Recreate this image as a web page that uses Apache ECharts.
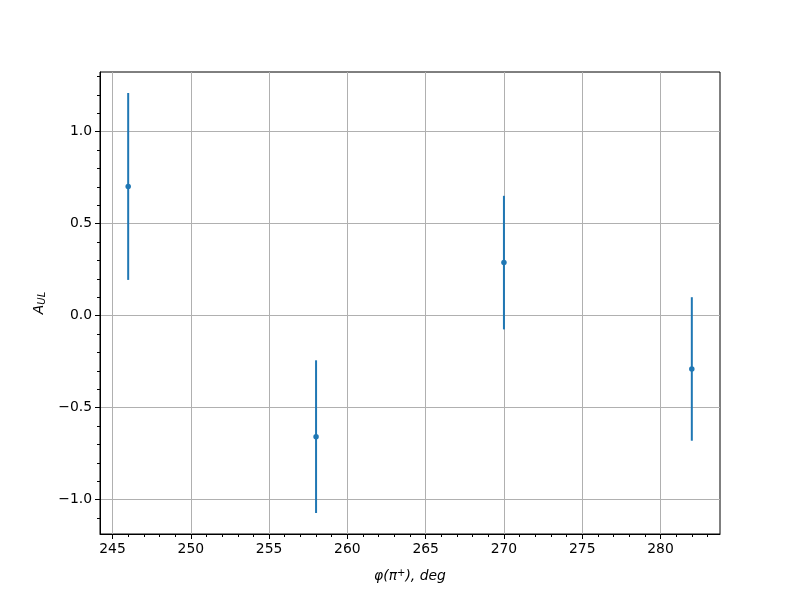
<!DOCTYPE html>
<html>
<head>
<meta charset="utf-8">
<script src="https://cdn.jsdelivr.net/npm/echarts@6/dist/echarts.min.js"></script>
<style>html,body{margin:0;padding:0;background:#fff;}#c{width:800px;height:600px;}</style>
</head>
<body>
<div id="c"></div>
<script>
// Data
var phiValues = [246, 258, 270, 282];
var aulValues = [0.702, -0.658, 0.288, -0.290];
var aulErrors = [0.508, 0.415, 0.363, 0.390];

// Axis ticks
var xMajorTicks = [245, 250, 255, 260, 265, 270, 275, 280];
var xMinorTicks = [245,246,247,248,249,250,251,252,253,254,255,256,257,258,259,260,261,262,263,264,265,266,267,268,269,270,271,272,273,274,275,276,277,278,279,280,281,282,283];
var yMajorTicks = [-1.0, -0.5, 0.0, 0.5, 1.0];
var yMinorTicks = [-1.1,-1.0,-0.9,-0.8,-0.7,-0.6,-0.5,-0.4,-0.3,-0.2,-0.1,0.0,0.1,0.2,0.3,0.4,0.5,0.6,0.7,0.8,0.9,1.0,1.1,1.2,1.3];
var xRange = [244.2, 283.8];
var yRange = [-1.187, 1.324];

var color = '#1f77b4';
var font = 'DejaVu Sans';

var errData = phiValues.map(function (x, i) { return [x, aulValues[i], aulErrors[i]]; });
var ptData = phiValues.map(function (x, i) { return [x, aulValues[i]]; });

function fmtY(v) { return Number(v).toFixed(1).replace('-', '\u2212'); }

var chart = echarts.init(document.getElementById('c'), null, {renderer: 'canvas'});
chart.setOption({
  animation: false,
  backgroundColor: '#ffffff',
  grid: {left: 100, right: 80, top: 72, bottom: 66, show: true, borderColor: '#000', borderWidth: 1, backgroundColor: 'transparent'},
  xAxis: [{
    type: 'value', min: xRange[0], max: xRange[1], position: 'bottom',
    axisLine: {show: true, onZero: false, lineStyle: {color: '#000', width: 1}},
    axisTick: {show: true, customValues: xMajorTicks, length: 5, lineStyle: {color: '#000', width: 1}},
    axisLabel: {show: true, customValues: xMajorTicks, color: '#000', fontFamily: font, fontSize: 13.9, margin: 8,
      formatter: function (v) { return String(v); }},
    splitLine: {show: true, lineStyle: {color: '#b0b0b0', width: 1}},
    name: '{i|\u03c6(\u03c0}{s|+}{i|), deg}',
    nameLocation: 'middle', nameGap: 34,
    nameTextStyle: {rich: {
      i: {fontFamily: font, fontStyle: 'italic', fontSize: 13.9, color: '#000'},
      s: {fontFamily: font, fontStyle: 'italic', fontSize: 10, color: '#000', verticalAlign: 'top', padding: [0, 0, 6, 0]}
    }}
  }, {
    type: 'value', min: xRange[0], max: xRange[1], position: 'bottom',
    axisLine: {show: false, onZero: false},
    axisTick: {show: true, customValues: xMinorTicks, length: 3, lineStyle: {color: '#000', width: 1}},
    axisLabel: {show: false},
    splitLine: {show: false}
  }],
  yAxis: [{
    type: 'value', min: yRange[0], max: yRange[1], position: 'left',
    axisLine: {show: true, onZero: false, lineStyle: {color: '#000', width: 1}},
    axisTick: {show: true, customValues: yMajorTicks, length: 5, lineStyle: {color: '#000', width: 1}},
    axisLabel: {show: true, customValues: yMajorTicks, color: '#000', fontFamily: font, fontSize: 13.9, margin: 8,
      formatter: fmtY},
    splitLine: {show: true, lineStyle: {color: '#b0b0b0', width: 1}},
    name: '{i|A}{s|UL}',
    nameLocation: 'middle', nameGap: 52, nameRotate: 90,
    nameTextStyle: {rich: {
      i: {fontFamily: font, fontStyle: 'italic', fontSize: 13.9, color: '#000'},
      s: {fontFamily: font, fontStyle: 'italic', fontSize: 10, color: '#000', verticalAlign: 'bottom', padding: [5, 0, 0, 0]}
    }}
  }, {
    type: 'value', min: yRange[0], max: yRange[1], position: 'left',
    axisLine: {show: false, onZero: false},
    axisTick: {show: true, customValues: yMinorTicks, length: 3, lineStyle: {color: '#000', width: 1}},
    axisLabel: {show: false},
    splitLine: {show: false}
  }],
  series: [{
    type: 'custom',
    xAxisIndex: 0, yAxisIndex: 0,
    data: errData,
    renderItem: function (params, api) {
      var x = api.value(0), y = api.value(1), e = api.value(2);
      var p1 = api.coord([x, y - e]);
      var p2 = api.coord([x, y + e]);
      return {type: 'line', shape: {x1: p1[0], y1: p1[1], x2: p2[0], y2: p2[1]},
        style: {stroke: color, lineWidth: 2}};
    },
    z: 3
  }, {
    type: 'scatter',
    xAxisIndex: 0, yAxisIndex: 0,
    data: ptData,
    symbol: 'circle', symbolSize: 5.5,
    itemStyle: {color: color, opacity: 1},
    z: 4
  }]
});
</script>
</body>
</html>
